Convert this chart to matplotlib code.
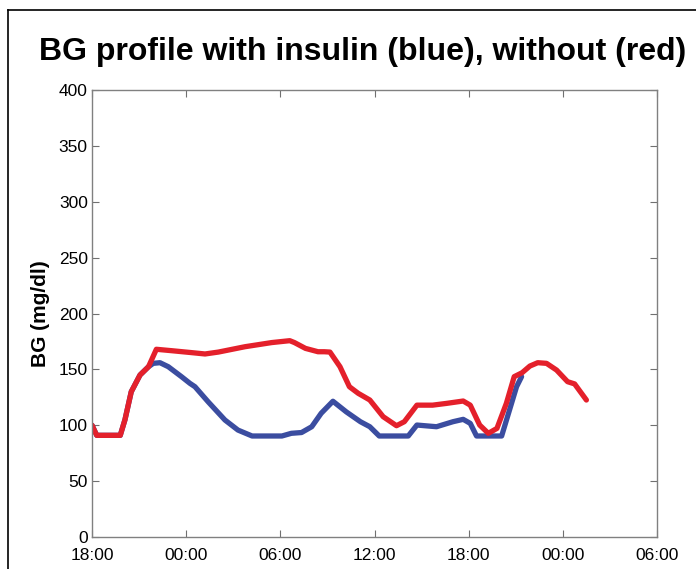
import matplotlib
matplotlib.use('Agg')
import matplotlib.pyplot as plt
from matplotlib.lines import Line2D

plt.rcParams['font.family'] = ['Liberation Sans', 'DejaVu Sans']

# hours after 18:00 on day one
HOURS_RED = [0, 0.3, 1.0, 1.8, 2.1, 2.5, 3.06, 3.6, 4.1, 5.1, 6.35, 7.2, 8.05,
             9.75, 11.45, 12.6, 12.9, 13.6, 14.4, 14.8, 15.16, 15.8, 16.4,
             16.96, 17.7, 18.55, 19.4, 19.9, 20.7, 21.7, 22.6, 23.65, 24.1,
             24.7, 25.25, 25.8, 26.4, 26.9, 27.4, 27.9, 28.4, 28.96, 29.6,
             30.3, 30.75, 31.5]
BG_RED = [100, 91, 91, 91, 105, 130, 145, 152.4, 168, 166.7, 165, 163.8, 165.5,
          170.3, 174, 175.7, 174, 168.8, 165.8, 165.8, 165.5, 152.4, 134.5,
          128.6, 122.6, 107.7, 99.6, 103.2, 118, 118, 119.6, 121.7, 118,
          100.2, 92.8, 97.2, 119.6, 143.5, 147, 153, 156, 155.4, 149.4,
          139, 137, 122.6]

HOURS_BLUE = [0, 0.3, 1.0, 1.8, 2.1, 2.5, 3.06, 3.6, 3.9, 4.33, 4.86, 5.7,
              6.24, 6.56, 7.4, 8.47, 9.3, 10.2, 12.1, 12.7, 13.35, 14.0, 14.6,
              15.35, 16.2, 17.1, 17.7, 18.3, 20.15, 20.7, 21.95, 23.0, 23.65,
              24.1, 24.5, 26.1, 26.6, 27.05, 27.37]
BG_BLUE = [100, 91, 91, 91, 105, 130, 145, 152.4, 155.4, 156, 152.4, 143.5,
           137.5, 134.5, 121, 104.7, 95.7, 90.4, 90.4, 92.8, 93.5, 98.7, 110.7,
           121.5, 112, 103.2, 98.7, 90.4, 90.4, 100.2, 98.7, 103.2, 105.3,
           101.7, 90.4, 90.4, 113.6, 134.5, 143.5]

TICK_HOURS = [0, 6, 12, 18, 24, 30, 36]
TICK_LABELS = ['18:00', '00:00', '06:00', '12:00', '18:00', '00:00', '06:00']
Y_TICKS = [0, 50, 100, 150, 200, 250, 300, 350, 400]

fig = plt.figure(figsize=(6.96, 5.69), dpi=100)
ax = fig.add_axes([0.1322, 0.0562, 0.8118, 0.7856])

ax.plot(HOURS_BLUE, BG_BLUE, color='#3b4da0', linewidth=3.8,
        solid_capstyle='round', solid_joinstyle='round')
ax.plot(HOURS_RED, BG_RED, color='#e4202b', linewidth=3.8,
        solid_capstyle='round', solid_joinstyle='round')

ax.set_xlim(0, 36)
ax.set_ylim(0, 400)
ax.set_xticks(TICK_HOURS)
ax.set_xticklabels(TICK_LABELS)
ax.set_yticks(Y_TICKS)
ax.tick_params(direction='in', top=True, right=True, labelsize=12.5,
               length=5, color='#707070')
ax.tick_params(axis='x', pad=8)
ax.tick_params(axis='y', pad=3)
for sp in ax.spines.values():
    sp.set_color('#808080')
    sp.set_linewidth(1.0)

ax.set_ylabel('BG (mg/dl)', fontsize=15, fontweight='bold', labelpad=6)
fig.text(0.521, 0.908, 'BG profile with insulin (blue), without (red)',
         ha='center', va='center', fontsize=23, fontweight='bold')

# outer frame of the source figure
fig.add_artist(Line2D([8 / 696, 8 / 696], [0, 1 - 10 / 569],
                      transform=fig.transFigure, color='black', linewidth=1.2))
fig.add_artist(Line2D([8 / 696, 1], [1 - 10 / 569, 1 - 10 / 569],
                      transform=fig.transFigure, color='black', linewidth=1.2))

fig.savefig('out.png', dpi=100)
